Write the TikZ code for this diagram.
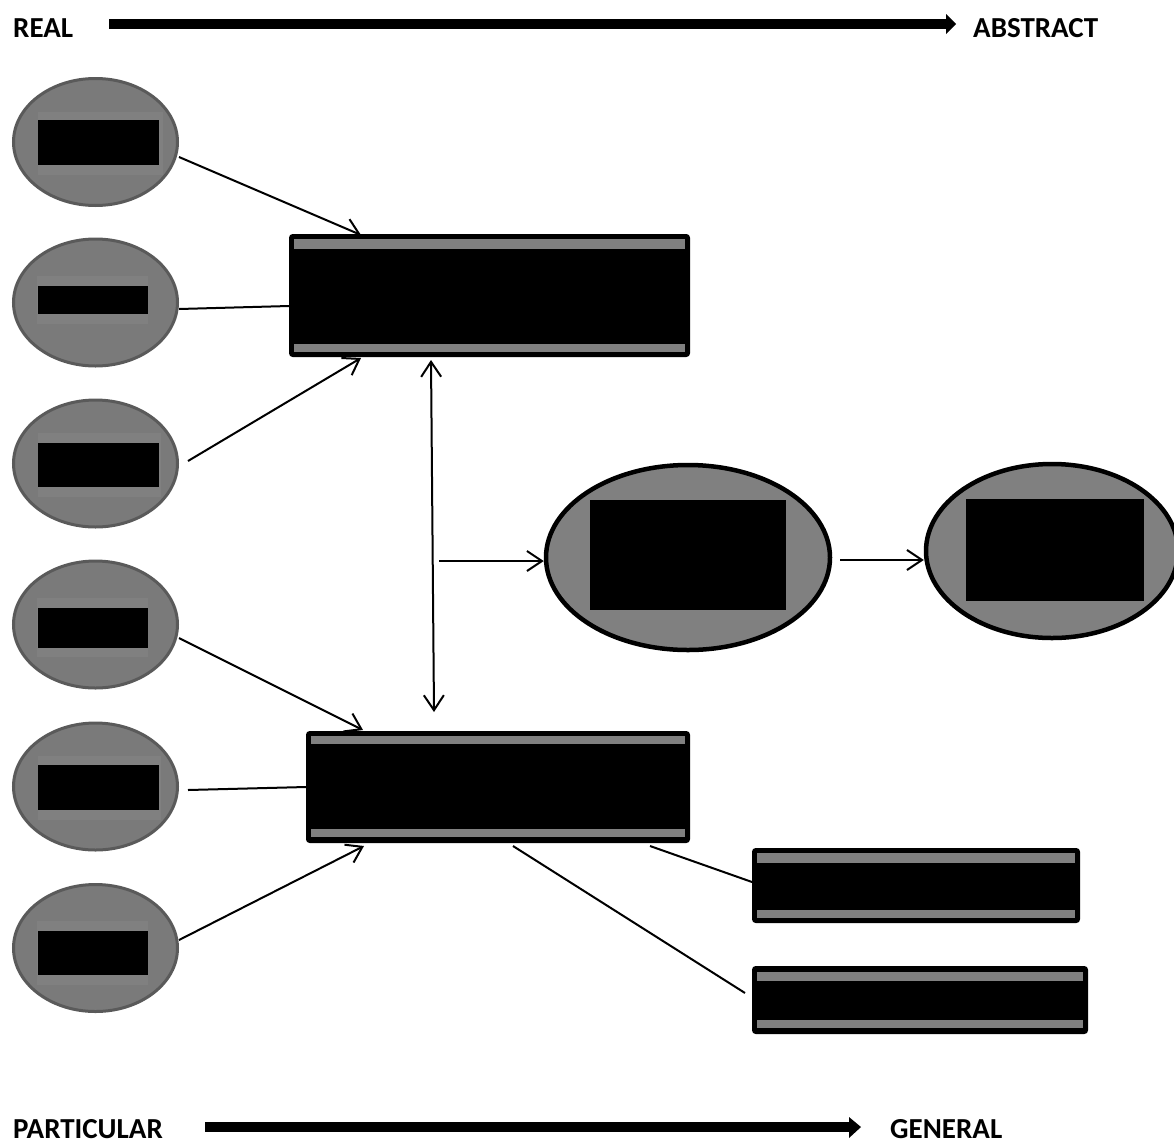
\documentclass[tikz,border=0pt]{standalone}
\usepackage{fontspec}
\setmainfont{Carlito}
\usetikzlibrary{shapes.geometric,arrows.meta,calc}
\definecolor{ellfill}{HTML}{7A7A7A}
\definecolor{ellbg}{HTML}{808080}
\definecolor{ellborder}{HTML}{5A5A5A}
\definecolor{stripe}{HTML}{808080}
\begin{document}
\begin{tikzpicture}[x=1pt,y=-1pt,
  smallell/.style={ellipse, draw=ellborder, fill=ellfill, line width=3pt, minimum width=164pt, minimum height=127pt, inner sep=0pt},
  bigell/.style={ellipse, draw=black, fill=ellbg, line width=4.5pt, inner sep=0pt},
  blackbox/.style={rectangle, fill=black, inner sep=0pt},
  bgbox/.style={rectangle, fill=ellbg, inner sep=0pt},
  stripebox/.style={rectangle, draw=black, fill=black, line width=4pt, rounded corners=2pt, inner sep=0pt},
  stripefill/.style={fill=stripe},
  conn/.style={line width=2pt},
  arr/.style={conn, -{Straight Barb[length=15pt,width=20pt]}},
  darr/.style={conn, {Straight Barb[length=15pt,width=20pt]}-{Straight Barb[length=15pt,width=20pt]}},
  lbl/.style={anchor=base west, inner sep=0pt, font=\fontsize{29}{31}\selectfont\bfseries}
]
\useasboundingbox (0,0) rectangle (1174,1143);

% axis labels and arrows
\node[lbl] (real) at (13,37) {REAL};
\node[lbl] (abstract) at (973,37) {ABSTRACT};
\node[lbl] (particular) at (13,1138) {PARTICULAR};
\node[lbl] (general) at (890,1138) {GENERAL};
\fill (109,19) rectangle (947,29);
\fill (946,14) -- (956,24) -- (946,34) -- cycle;
\fill (205,1122) rectangle (850,1132);
\fill (849,1117) -- (861,1127) -- (849,1138) -- cycle;

% small ellipses
\node[smallell] (e1) at (95.5,142) {};
\node[smallell] (e2) at (95.5,302.5) {};
\node[smallell] (e3) at (95.5,463.5) {};
\node[smallell] (e4) at (95.5,624.5) {};
\node[smallell] (e5) at (95.5,786.5) {};
\node[smallell] (e6) at (95.5,948) {};

\node[bgbox, minimum width=125pt, minimum height=63pt] (b1) at (100.5,143.5) {};
\node[bgbox, minimum width=111pt, minimum height=48pt] (b2) at (92.5,300) {};
\node[bgbox, minimum width=123pt, minimum height=64pt] (b3) at (99.5,465) {};
\node[bgbox, minimum width=111pt, minimum height=59pt] (b4) at (92.5,627.5) {};
\node[bgbox, minimum width=123pt, minimum height=64pt] (b5) at (99.5,787.5) {};
\node[bgbox, minimum width=111pt, minimum height=64pt] (b6) at (92.5,953) {};

\node[blackbox, minimum width=121pt, minimum height=45pt] (t1) at (98.5,142.5) {};
\node[blackbox, minimum width=110pt, minimum height=28pt] (t2) at (93,300) {};
\node[blackbox, minimum width=121pt, minimum height=44pt] (t3) at (98.5,465) {};
\node[blackbox, minimum width=110pt, minimum height=40pt] (t4) at (93,628) {};
\node[blackbox, minimum width=121pt, minimum height=45pt] (t5) at (98.5,787.5) {};
\node[blackbox, minimum width=110pt, minimum height=44pt] (t6) at (93,953) {};

% striped boxes
\node[stripebox, minimum width=397pt, minimum height=119pt] (r1) at (489.5,295.5) {};
\fill[stripefill] (294,239) rectangle (685,249);
\fill[stripefill] (294,344) rectangle (685,352);
\node[stripebox, minimum width=380pt, minimum height=108pt] (r2) at (498,787) {};
\fill[stripefill] (311,736) rectangle (685,744);
\fill[stripefill] (311,829) rectangle (685,837);
\node[stripebox, minimum width=324pt, minimum height=71pt] (ra) at (916,885.5) {};
\fill[stripefill] (757,853) rectangle (1075,863);
\fill[stripefill] (757,910) rectangle (1075,918);
\node[stripebox, minimum width=332pt, minimum height=64pt] (rb) at (920,1000) {};
\fill[stripefill] (757,972) rectangle (1083,981);
\fill[stripefill] (757,1020) rectangle (1083,1028);

% big ellipses
\node[bigell, minimum width=284pt, minimum height=185pt] (be1) at (688,557.5) {};
\node[blackbox, minimum width=196pt, minimum height=110pt] (bt1) at (688,555) {};
\node[bigell, minimum width=252pt, minimum height=174pt] (be2) at (1052,551) {};
\node[blackbox, minimum width=178pt, minimum height=102pt] (bt2) at (1055,550) {};

% connectors
\draw[arr] ($(e1.east)+(0,15)$) -- ($(r1.north west)+(72,1)$);
\draw[conn] ($(e2.east)+(0,6.5)$) -- ($(r1.west)+(0,10.5)$);
\draw[arr] ($(e3.east)+(9,-2.5)$) -- ($(r1.south west)+(72,1)$);
\draw[arr] ($(e4.east)+(0,13.5)$) -- ($(r2.north west)+(57,-1)$);
\draw[conn] ($(e5.east)+(9,3.5)$) -- ($(r2.west)+(0,0)$);
\draw[arr] ($(e6.east)+(0,-8)$) -- ($(r2.south west)+(58,3)$);
\draw[darr] ($(r1.south west)+(142,3)$) -- ($(r2.north west)+(128,-19)$);
\coordinate (vmid) at (439,561);
\draw[arr] (vmid) -- (be1.west |- vmid);
\draw[arr] ($(be1.east)+(8,2.5)$) -- (be2.west |- {(0,560)});
\draw[conn] ($(r2.south west)+(344,3)$) -- ($(ra.west)+(0,-3.5)$);
\draw[conn] ($(r2.south west)+(207,3)$) -- ($(rb.west)+(-7,-7)$);
\end{tikzpicture}
\end{document}
